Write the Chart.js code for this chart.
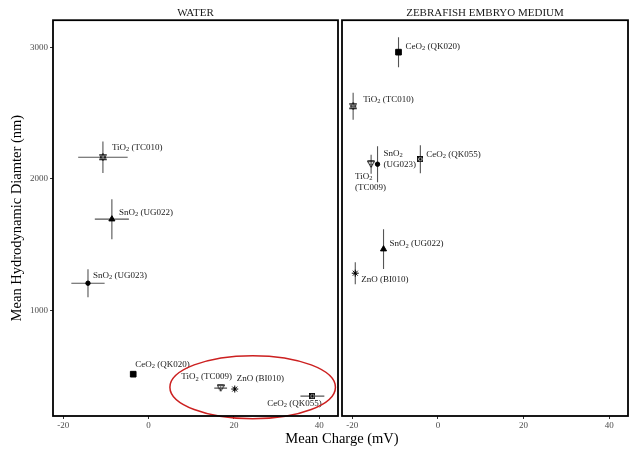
<!DOCTYPE html>
<html>
<head>
<meta charset="utf-8">
<script src="https://cdn.jsdelivr.net/npm/chart.js@4.4.0/dist/chart.umd.min.js"></script>
<style>
  html, body { margin: 0; padding: 0; background: #fff; }
  #wrap { position: relative; width: 639px; height: 457px; }
  #wrap canvas { position: absolute; left: 0; top: 0; }
  #xtitle {
    position: absolute; left: 242px; width: 200px; top: 431px;
    text-align: center; font: 14.5px 'Liberation Serif', serif; line-height: 15px; color: #000;
  }
</style>
</head>
<body>
<div id="wrap">
  <canvas id="water" width="639" height="457"></canvas>
  <canvas id="zebrafish" width="639" height="457"></canvas>
  <div id="xtitle">Mean Charge (mV)</div>
</div>
<script>
// data
const materials = ['TiO2 (TC010)', 'SnO2 (UG022)', 'SnO2 (UG023)', 'CeO2 (QK020)', 'TiO2 (TC009)', 'ZnO (BI010)', 'CeO2 (QK055)'];

const waterCharge    = [-10.7, -8.6, -14.2, -3.6, 16.9, 20.2, 38.4];
const waterChargeErr = [5.8, 4.0, 3.9, 0.5, 1.5, 0.3, 2.8];
const waterSize      = [2163, 1692, 1205, 513, 407, 400, 346];
const waterSizeErr   = [120, 152, 106, 20, 15, 15, 20];

const zebraCharge    = [-19.8, -12.7, -14.1, -9.2, -15.6, -19.3, -4.1];
const zebraChargeErr = [0.3, 0.4, 0.3, 0.3, 0.4, 0.3, 0.3];
const zebraSize      = [2551, 1464, 2110, 2962, 2110, 1281, 2148];
const zebraSizeErr   = [103, 152, 137, 114, 72, 84, 106];

const xTicks = [-20, 0, 20, 40];
const yTicks = [1000, 2000, 3000];
const xRange = [-22.4, 44.4];
const yRange = [195, 3205];

// highlight ellipse in water panel (data units)
const ellipseCenter = [24.4, 414];
const ellipseRadius = [19.4, 240];

const SERIF = "'Liberation Serif', 'Times New Roman', serif";

// label placement (pixels from the point): dx, dy, align, wrap
const waterLabelPos = [[9, -10, 'left'], [7, -7, 'left'], [5, -8, 'left'], [2, -10, 'left'],
                       [-14, -11, 'center'], [2, -10, 'left'], [-18, 7, 'center']];
const zebraLabelPos = [[10, -7, 'left'], [6, -5, 'left'], [6, -11, 'left', true], [7, -6, 'left'],
                       [-16, 12, 'left', true], [6, 6, 'left'], [6, -5, 'left']];

function shape(size, draw) {
  const c = document.createElement('canvas');
  c.width = c.height = size;
  const g = c.getContext('2d');
  g.strokeStyle = '#000';
  g.lineWidth = 0.9;
  draw(g, size);
  return c;
}
const starOfDavid = shape(8, g => {
  g.beginPath(); g.moveTo(4, 0.5); g.lineTo(7.5, 6.5); g.lineTo(0.5, 6.5); g.closePath(); g.stroke();
  g.beginPath(); g.moveTo(4, 7.5); g.lineTo(0.5, 1.5); g.lineTo(7.5, 1.5); g.closePath(); g.stroke();
});
const triDown = shape(8, g => {
  g.beginPath(); g.moveTo(0.5, 1); g.lineTo(7.5, 1); g.lineTo(4, 7.2); g.closePath(); g.stroke();
  g.beginPath(); g.moveTo(0.5, 1); g.lineTo(7.5, 1); g.stroke();
});
const squareCross = shape(6, g => {
  g.strokeRect(0.5, 0.5, 5, 5);
  g.beginPath(); g.moveTo(0.5, 0.5); g.lineTo(5.5, 5.5); g.moveTo(5.5, 0.5); g.lineTo(0.5, 5.5); g.stroke();
});

const pointStyles = [starOfDavid, 'triangle', 'circle', 'rect', triDown, 'star', squareCross];
const pointRadii  = [4, 3.5, 2.2, 4, 4, 3.5, 3];
const pointFills  = ['rgba(0,0,0,0)', '#000', '#000', '#000', 'rgba(0,0,0,0)', 'rgba(0,0,0,0)', 'rgba(0,0,0,0)'];

function drawLabel(ctx, text, x, y, align, wrap) {
  const m = text.match(/^([A-Za-z]+)(\d*)(.*)$/);
  const main = '9px ' + SERIF, sub = '6.5px ' + SERIF;
  ctx.textBaseline = 'middle';
  ctx.textAlign = 'left';
  ctx.fillStyle = '#1a1a1a';
  const lines = wrap ? [[m[1], m[2], ''], ['', '', m[3].trim()]] : [[m[1], m[2], m[3]]];
  lines.forEach((ln, i) => {
    ctx.font = main;
    const w1 = ctx.measureText(ln[0]).width;
    const w3 = ctx.measureText(ln[2]).width;
    ctx.font = sub;
    const w2 = ctx.measureText(ln[1]).width;
    const total = w1 + w2 + w3;
    let cx = align === 'center' ? x - total / 2 : x;
    const cy = y + i * 11;
    ctx.font = main;
    ctx.fillText(ln[0], cx, cy); cx += w1;
    ctx.font = sub;
    ctx.fillText(ln[1], cx, cy + 2.5); cx += w2;
    ctx.font = main;
    ctx.fillText(ln[2], cx, cy);
  });
}

function panelPlugin(charge, chargeErr, size, sizeErr, labelPos, withEllipse) {
  return {
    id: 'panel',
    beforeDatasetsDraw(chart) {
      const { ctx, scales: { x, y } } = chart;
      ctx.save();
      ctx.strokeStyle = '#555';
      ctx.lineWidth = 1.1;
      charge.forEach((cv, i) => {
        const px = x.getPixelForValue(cv), py = y.getPixelForValue(size[i]);
        ctx.beginPath();
        ctx.moveTo(x.getPixelForValue(cv - chargeErr[i]), py);
        ctx.lineTo(x.getPixelForValue(cv + chargeErr[i]), py);
        ctx.moveTo(px, y.getPixelForValue(size[i] - sizeErr[i]));
        ctx.lineTo(px, y.getPixelForValue(size[i] + sizeErr[i]));
        ctx.stroke();
      });
      ctx.restore();
    },
    afterDatasetsDraw(chart) {
      const { ctx, scales: { x, y } } = chart;
      ctx.save();
      charge.forEach((cv, i) => {
        const p = labelPos[i];
        drawLabel(ctx, materials[i], x.getPixelForValue(cv) + p[0], y.getPixelForValue(size[i]) + p[1], p[2], p[3]);
      });
      if (withEllipse) {
        const cx = x.getPixelForValue(ellipseCenter[0]), cy = y.getPixelForValue(ellipseCenter[1]);
        const rx = x.getPixelForValue(ellipseCenter[0] + ellipseRadius[0]) - cx;
        const ry = cy - y.getPixelForValue(ellipseCenter[1] + ellipseRadius[1]);
        ctx.strokeStyle = '#cc2020';
        ctx.lineWidth = 1.5;
        ctx.beginPath();
        ctx.ellipse(cx, cy, rx, ry, 0, 0, Math.PI * 2);
        ctx.stroke();
      }
      ctx.restore();
    },
    afterDraw(chart) {
      const { ctx, chartArea: a } = chart;
      ctx.save();
      ctx.strokeStyle = '#000';
      ctx.lineWidth = 1.8;
      ctx.strokeRect(a.left, a.top, a.right - a.left, a.bottom - a.top);
      ctx.restore();
    }
  };
}

function makeChart(id, title, charge, chargeErr, size, sizeErr, labelPos, padding, showY, withEllipse) {
  const points = charge.map((c, i) => ({ x: c, y: size[i] }));
  return new Chart(document.getElementById(id).getContext('2d'), {
    type: 'scatter',
    data: {
      datasets: [{
        label: title,
        data: points,
        pointStyle: pointStyles,
        pointRadius: pointRadii,
        backgroundColor: pointFills,
        borderColor: '#000',
        borderWidth: 1,
        clip: false
      }]
    },
    options: {
      responsive: false,
      animation: false,
      events: [],
      layout: { padding: padding },
      plugins: {
        legend: { display: false },
        tooltip: { enabled: false },
        title: {
          display: true, text: title, fullSize: false, color: '#1a1a1a',
          font: { family: SERIF, size: 11, weight: 'normal' },
          padding: { top: 7, bottom: 0 }
        }
      },
      scales: {
        x: {
          type: 'linear', min: xRange[0], max: xRange[1],
          afterBuildTicks: s => { s.ticks = xTicks.map(v => ({ value: v })); },
          afterFit: s => { s.height = 41; },
          grid: { display: true, drawOnChartArea: false, drawTicks: true, tickLength: 3, tickColor: '#333' },
          border: { display: false },
          ticks: { color: '#4d4d4d', font: { family: SERIF, size: 9 }, padding: 1, maxRotation: 0, callback: v => String(v) }
        },
        y: {
          type: 'linear', min: yRange[0], max: yRange[1], display: showY,
          afterBuildTicks: s => { s.ticks = yTicks.map(v => ({ value: v })); },
          afterFit: s => { s.width = showY ? 53 : 0; },
          grid: { display: true, drawOnChartArea: false, drawTicks: true, tickLength: 3, tickColor: '#333' },
          border: { display: false },
          ticks: { color: '#4d4d4d', font: { family: SERIF, size: 9 }, padding: 2, callback: v => String(v) },
          title: {
            display: true, text: 'Mean Hydrodynamic Diamter (nm)', color: '#000',
            font: { family: SERIF, size: 14.5 }, padding: { top: 8, bottom: 0 }
          }
        }
      }
    },
    plugins: [panelPlugin(charge, chargeErr, size, sizeErr, labelPos, withEllipse)]
  });
}

makeChart('water', 'WATER', waterCharge, waterChargeErr, waterSize, waterSizeErr, waterLabelPos,
  { left: 0, right: 301, top: 0, bottom: 0 }, true, true);
makeChart('zebrafish', 'ZEBRAFISH EMBRYO MEDIUM', zebraCharge, zebraChargeErr, zebraSize, zebraSizeErr, zebraLabelPos,
  { left: 342, right: 11, top: 0, bottom: 0 }, false, false);
</script>
</body>
</html>
